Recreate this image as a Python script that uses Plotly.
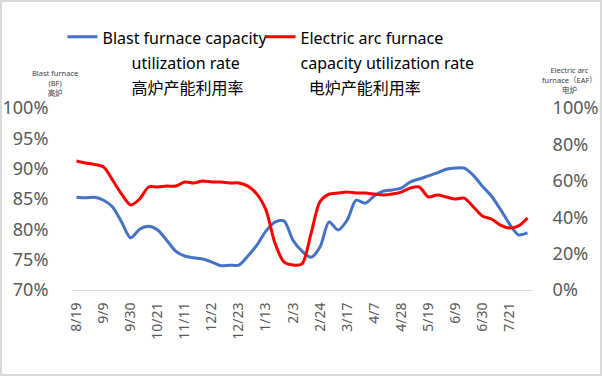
import plotly.graph_objects as go

weeks = ["8/19", "8/26", "9/2", "9/9", "9/16", "9/23", "9/30", "10/7", "10/14", "10/21",
         "10/28", "11/4", "11/11", "11/18", "11/25", "12/2", "12/9", "12/16", "12/23", "12/30",
         "1/6", "1/13", "1/20", "1/27", "2/3", "2/10", "2/17", "2/24", "3/3", "3/10",
         "3/17", "3/24", "3/31", "4/7", "4/14", "4/21", "4/28", "5/5", "5/12", "5/19",
         "5/26", "6/2", "6/9", "6/16", "6/23", "6/30", "7/7", "7/14", "7/21", "7/28", "8/4"]

bf_rate = [85.3, 85.2, 85.3, 84.8, 83.7, 81.2, 78.6, 80.0, 80.5, 79.9,
           78.2, 76.4, 75.6, 75.3, 75.1, 74.6, 74.0, 74.1, 74.1, 75.6,
           77.4, 79.7, 81.2, 81.4, 78.2, 76.4, 75.4, 77.1, 81.2, 79.9,
           81.5, 84.8, 84.3, 85.5, 86.3, 86.5, 86.8, 87.8, 88.3, 88.8,
           89.3, 89.9, 90.1, 90.1, 88.9, 87.1, 85.5, 83.3, 80.9, 79.1, 79.4]

eaf_rate = [70.9, 69.8, 69.0, 67.6, 60.4, 52.7, 46.7, 50.0, 56.6, 56.6,
            57.1, 57.1, 59.3, 58.8, 59.9, 59.3, 59.3, 58.8, 58.8, 57.1,
            52.7, 44.0, 25.8, 15.4, 13.7, 14.3, 31.0, 48.6, 52.7, 53.3,
            53.8, 53.3, 53.3, 52.7, 52.2, 52.7, 53.8, 56.0, 56.6, 51.1,
            52.2, 51.1, 50.0, 50.5, 45.6, 40.7, 39.0, 35.7, 34.1, 35.2, 39.6]

tick_labels = weeks[::3]
left_ticks = [70, 75, 80, 85, 90, 95, 100]
right_ticks = [0, 20, 40, 60, 80, 100]

NB = "\u00a0"


def sized(lines, size=16):
    return "<br>".join('<span style="font-size:%spx">%s</span>' % (size, ln) for ln in lines)


bf_name = sized(["Blast furnace capacity", NB * 7 + "utilization rate", NB * 7 + "高炉产能利用率"])
eaf_name = sized(["Electric arc furnace", "capacity utilization rate", NB * 2 + "电炉产能利用率"])

FONT = "Noto Sans, Noto Sans CJK SC, sans-serif"
GRAY = "#595959"
CLEAR = "rgba(0,0,0,0)"

fig = go.Figure()
fig.add_trace(go.Scatter(x=weeks, y=bf_rate, name=bf_name, mode="lines",
                         line=dict(color="#4472C4", width=3, shape="spline", smoothing=0.8),
                         yaxis="y", legend="legend"))
fig.add_trace(go.Scatter(x=weeks, y=eaf_rate, name=eaf_name, mode="lines",
                         line=dict(color="#FF0000", width=3, shape="spline", smoothing=0.8),
                         yaxis="y2", legend="legend2"))

legend_common = dict(orientation="h", xanchor="left", yanchor="top", valign="top",
                     xref="container", yref="container",
                     font=dict(family=FONT, size=19, color="#000000"),
                     bgcolor=CLEAR, itemwidth=30)

fig.update_layout(
    width=602, height=376,
    margin=dict(l=72, r=70, t=108, b=86, autoexpand=False),
    paper_bgcolor="white", plot_bgcolor="white",
    font=dict(family=FONT, color=GRAY),
    showlegend=True,
    legend=dict(x=62.5 / 602, y=1 - 18 / 376, **legend_common),
    legend2=dict(x=260.5 / 602, y=1 - 18 / 376, **legend_common),
    xaxis=dict(type="category", tickmode="array", tickvals=tick_labels, ticktext=tick_labels,
               tickangle=-90, tickfont=dict(size=14, color=GRAY), showgrid=False,
               showline=True, linecolor="#D9D9D9", linewidth=1,
               ticks="outside", ticklen=6, tickcolor=CLEAR, automargin=False,
               range=[-0.5, len(weeks) - 0.5], zeroline=False),
    yaxis=dict(range=[70, 100], tickmode="array", tickvals=left_ticks,
               ticktext=["%d%%" % v for v in left_ticks], showgrid=False,
               zeroline=False, tickfont=dict(size=18, color=GRAY), automargin=False,
               ticks="outside", ticklen=19, tickcolor=CLEAR),
    yaxis2=dict(range=[0, 100], tickmode="array", tickvals=right_ticks,
                ticktext=["%d%%" % v for v in right_ticks], showgrid=False,
                zeroline=False, overlaying="y", side="right", automargin=False,
                tickfont=dict(size=18, color=GRAY),
                ticks="outside", ticklen=16, tickcolor=CLEAR),
    shapes=[dict(type="rect", xref="paper", yref="paper",
                 x0=-71 / 460, x1=1 + 69 / 460, y0=-85 / 182, y1=1 + 107 / 182,
                 line=dict(color="#D9D9D9", width=2), fillcolor=CLEAR)],
    annotations=[
        dict(text="Blast furnace<br>(BF)<br>高炉", xref="paper", yref="paper",
             x=(55 - 72) / 460, y=1 + (108 - 83) / 182, xanchor="center", yanchor="middle",
             showarrow=False, font=dict(size=7.5, color="#404040"), align="center"),
        dict(text="Electric arc<br>furnace（EAF）<br>电炉", xref="paper", yref="paper",
             x=1 + (569 - 532) / 460, y=1 + (108 - 80) / 182, xanchor="center", yanchor="middle",
             showarrow=False, font=dict(size=7.5, color="#404040"), align="center"),
    ],
)

fig.write_html("out.html", config={"displayModeBar": False},
               post_script="document.body.style.margin='0';")
